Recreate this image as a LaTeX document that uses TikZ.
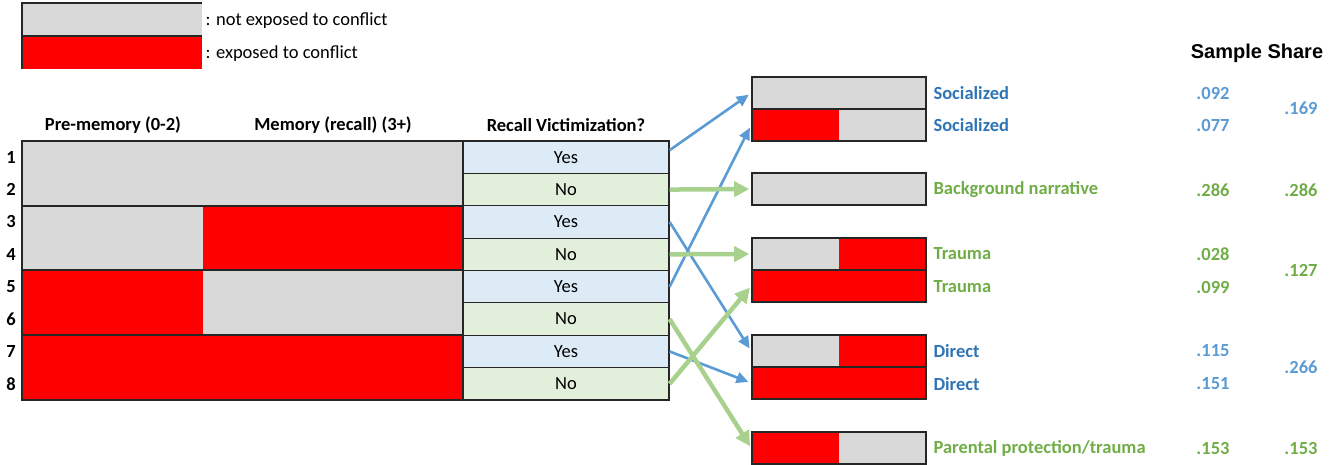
\documentclass[tikz,border=0pt]{standalone}
\usepackage{fontspec}
\setmainfont{Carlito}
\newfontfamily\arialfont{Liberation Sans}
\usetikzlibrary{arrows.meta}

\definecolor{graycell}{HTML}{D9D9D9}
\definecolor{yesfill}{HTML}{DDEBF7}
\definecolor{nofill}{HTML}{E2EFDA}
\definecolor{bluearrow}{HTML}{5B9BD5}
\definecolor{greenarrow}{HTML}{A9D18E}
\definecolor{bluetext}{HTML}{2E75B6}
\definecolor{bluenum}{HTML}{5B9BD5}
\definecolor{greentext}{HTML}{70AD47}

\tikzset{
  every node/.style={font=\fontsize{18.5}{22}\selectfont},
  blk/.style={draw=black!85,line width=1.6pt},
  bar/.style={draw=black!85,line width=1.6pt,minimum width=174pt,minimum height=32pt,inner sep=0pt,fill=graycell},
  redleft/.style={bar,path picture={\fill[red] (path picture bounding box.south west) rectangle (path picture bounding box.north);}},
  redright/.style={bar,path picture={\fill[red] (path picture bounding box.south) rectangle (path picture bounding box.north east);}},
  redbar/.style={bar,fill=red},
  yescell/.style={draw=black!85,line width=1.2pt,fill=yesfill,minimum width=206pt,minimum height=32.4pt,inner sep=0pt},
  nocell/.style={yescell,fill=nofill},
  hdr/.style={font=\fontsize{18.5}{22}\selectfont\bfseries},
  rownum/.style={font=\fontsize{18.5}{22}\selectfont\bfseries},
  bluearr/.style={draw=bluearrow,line width=2.6pt,-{Triangle[length=12pt,width=11pt]},shorten >=3pt},
  greenarr/.style={draw=greenarrow,line width=4.5pt,-{Triangle[length=15pt,width=15pt]},shorten >=2pt},
  blab/.style={anchor=west,text=bluetext,font=\fontsize{18.5}{22}\selectfont\bfseries},
  glab/.style={anchor=west,text=greentext,font=\fontsize{18.5}{22}\selectfont\bfseries},
  bnum/.style={text=bluenum,font=\fontsize{18.5}{22}\selectfont\bfseries},
  gnum/.style={text=greentext,font=\fontsize{18.5}{22}\selectfont\bfseries},
}

\begin{document}
\begin{tikzpicture}[x=1pt,y=-1pt]
  \useasboundingbox (0,0) rectangle (1334,464);

  \fill[graycell] (22,3) rectangle (202,36);
  \fill[red] (22,36) rectangle (202,69);
  \draw[black!85,line width=1.2pt] (202,3) -- (22,3) -- (22,69);
  \draw[black!85,line width=1.2pt] (22,36) -- (202,36);
  \node[anchor=west] (legnot) at (202,21) {: not exposed to conflict};
  \node[anchor=west] (legexp) at (202,54) {: exposed to conflict};

  \node[hdr] (hpre) at (113,125) {Pre-memory (0-2)};
  \node[hdr] (hmem) at (333,125) {Memory (recall) (3+)};
  \node[hdr] (hrec) at (566,125) {Recall Victimization?};

  \fill[graycell] (22,141) rectangle (463,206);
  \fill[graycell] (22,206) rectangle (203,270);
  \fill[red] (203,206) rectangle (463,270);
  \fill[red] (22,270) rectangle (203,335);
  \fill[graycell] (203,270) rectangle (463,335);
  \fill[red] (22,335) rectangle (463,400);
  \draw[blk] (22,141) rectangle (463,206);
  \draw[blk] (22,206) rectangle (463,270);
  \draw[blk] (22,270) rectangle (463,335);
  \draw[blk] (22,335) rectangle (463,400);

  \foreach \i/\t/\s in {1/Yes/yescell,2/No/nocell,3/Yes/yescell,4/No/nocell,
                         5/Yes/yescell,6/No/nocell,7/Yes/yescell,8/No/nocell}{
    \node[\s] (c\i) at (566,{141+(\i-0.5)*32.375}) {\t};
    \node[rownum] (n\i) at (11,{141+(\i-0.5)*32.375}) {\i};
  }

  \node[bar] (soc1) at (839,93) {};
  \node[redleft] (soc2) at (839,125) {};
  \node[bar] (back) at (839,189) {};
  \node[redright] (tra1) at (839,254) {};
  \node[redbar] (tra2) at (839,286) {};
  \node[redright] (dir1) at (839,351) {};
  \node[redbar] (dir2) at (839,383) {};
  \node[redleft] (par) at (839,448) {};

  \draw[bluearr] ([yshift=7pt]c1.east) -- (soc1.west);
  \draw[bluearr] (c5.east) -- (soc2.west);
  \draw[bluearr] (c3.east) -- (dir1.west);
  \draw[bluearr] (c7.east) -- (dir2.west);
  \draw[greenarr] (c2.east) -- (back.west);
  \draw[greenarr] (c4.east) -- (tra1.west);
  \draw[greenarr] (c8.east) -- (tra2.west);
  \draw[greenarr] (c6.east) -- (par.west);

  \node[blab] (lsoc1) at (930,93) {Socialized};
  \node[blab] (lsoc2) at (930,125) {Socialized};
  \node[glab] (lback) at (930,190) {Background narrative};
  \node[glab] (ltra1) at (930,254) {Trauma};
  \node[glab] (ltra2) at (930,287) {Trauma};
  \node[blab] (ldir1) at (930,351) {Direct};
  \node[blab] (ldir2) at (930,384) {Direct};
  \node[glab] (lpar) at (930,448) {Parental protection/trauma};

  \node[font=\arialfont\fontsize{20}{24}\selectfont\bfseries] (share) at (1257,53) {Sample Share};
  \node[bnum] (v1) at (1213,93) {.092};
  \node[bnum] (v2) at (1213,125) {.077};
  \node[gnum] (v3) at (1213,190) {.286};
  \node[gnum] (v4) at (1213,254) {.028};
  \node[gnum] (v5) at (1213,287) {.099};
  \node[bnum] (v6) at (1213,351) {.115};
  \node[bnum] (v7) at (1213,384) {.151};
  \node[gnum] (v8) at (1213,448) {.153};
  \node[bnum] (t1) at (1301,108) {.169};
  \node[gnum] (t2) at (1301,190) {.286};
  \node[gnum] (t3) at (1301,270) {.127};
  \node[bnum] (t4) at (1301,367) {.266};
  \node[gnum] (t5) at (1301,448) {.153};
\end{tikzpicture}
\end{document}
